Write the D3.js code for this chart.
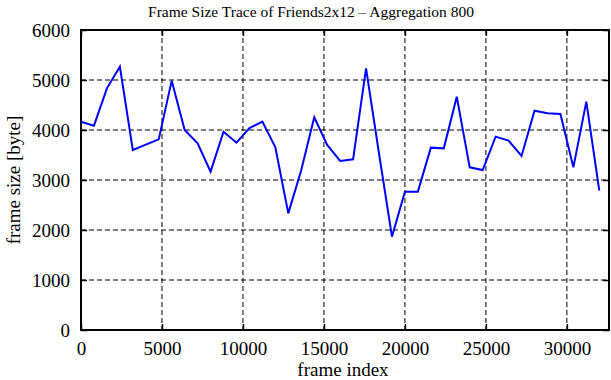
<!doctype html>
<html>
<head>
<meta charset="utf-8"/>
<title>Frame Size Trace of Friends2x12</title>
<script src="https://d3js.org/d3.v7.min.js"></script>
<style>
 body { margin: 0; background: #fff; }
 text { font-family: "Liberation Serif", "DejaVu Serif", serif; fill: #000; }
</style>
</head>
<body>
<script>
// frame index of each aggregated point (step 800)
var frameIndex = [0, 800, 1600, 2400, 3200, 4000, 4800, 5600, 6400, 7200,
  8000, 8800, 9600, 10400, 11200, 12000, 12800, 13600, 14400, 15200,
  16000, 16800, 17600, 18400, 19200, 20000, 20800, 21600, 22400, 23200,
  24000, 24800, 25600, 26400, 27200, 28000, 28800, 29600, 30400, 31200, 32000];
// frame size [byte]
var frameSize = [4166, 4087, 4833, 5267, 3600, 3707, 3813, 4987, 4000, 3733,
  3167, 3967, 3747, 4040, 4167, 3653, 2333, 3200, 4253, 3700,
  3380, 3413, 5233, 3530, 1867, 2767, 2767, 3647, 3633, 4667,
  3253, 3200, 3867, 3787, 3480, 4387, 4333, 4320, 3253, 4567, 2787];
var xTicks = [0, 5000, 10000, 15000, 20000, 25000, 30000];
var yTicks = [0, 1000, 2000, 3000, 4000, 5000, 6000];
var titleText = "Frame Size Trace of Friends2x12 \u2013 Aggregation 800";

var W = 611, H = 380;
var mLeft = 81, mRight = 609, mTop = 30, mBottom = 330;

var svg = d3.select("body").append("svg")
  .attr("width", W).attr("height", H);

var x = d3.scaleLinear().domain([0, 32600]).range([mLeft, mRight]);
var y = d3.scaleLinear().domain([0, 6000]).range([mBottom, mTop]);

// grid
svg.append("g").selectAll("line").data(yTicks.slice(1, -1)).enter()
  .append("line")
  .attr("x1", mLeft).attr("x2", mRight)
  .attr("y1", function(d){ return y(d); }).attr("y2", function(d){ return y(d); })
  .attr("stroke", "#000").attr("stroke-width", 1).attr("stroke-dasharray", "5,3");
svg.append("g").selectAll("line").data(xTicks.slice(1)).enter()
  .append("line")
  .attr("y1", mTop).attr("y2", mBottom)
  .attr("x1", function(d){ return x(d); }).attr("x2", function(d){ return x(d); })
  .attr("stroke", "#000").attr("stroke-width", 1).attr("stroke-dasharray", "5,3");

// axes with inward ticks
var tickStyle = function(g) {
  g.select(".domain").remove();
  g.selectAll(".tick line").attr("stroke", "#000").attr("stroke-width", 1.5);
  g.selectAll("text").style("font-family", "Liberation Serif").style("font-size", "19px");
};
svg.append("g").attr("transform", "translate(0," + mBottom + ")")
  .call(d3.axisBottom(x).tickValues(xTicks).tickFormat(d3.format("d")).tickSizeInner(-6).tickPadding(12))
  .call(tickStyle);
svg.append("g").attr("transform", "translate(0," + mTop + ")")
  .call(d3.axisTop(x).tickValues(xTicks).tickFormat("").tickSizeInner(-6))
  .call(tickStyle);
svg.append("g").attr("transform", "translate(" + mLeft + ",0)")
  .call(d3.axisLeft(y).tickValues(yTicks).tickFormat(d3.format("d")).tickSizeInner(-6).tickPadding(11))
  .call(tickStyle);
svg.append("g").attr("transform", "translate(" + mRight + ",0)")
  .call(d3.axisRight(y).tickValues(yTicks).tickFormat("").tickSizeInner(-6))
  .call(tickStyle);

// frame
svg.append("rect")
  .attr("x", mLeft).attr("y", mTop)
  .attr("width", mRight - mLeft).attr("height", mBottom - mTop)
  .attr("fill", "none").attr("stroke", "#000").attr("stroke-width", 2);

// data line
var pts = frameIndex.map(function(d, i){ return [d, frameSize[i]]; });
svg.append("path")
  .datum(pts)
  .attr("fill", "none")
  .attr("stroke", "#0000ff")
  .attr("stroke-width", 2)
  .attr("stroke-linejoin", "miter")
  .attr("d", d3.line().x(function(d){ return x(d[0]); }).y(function(d){ return y(d[1]); }));

// labels
svg.append("text")
  .attr("x", 311).attr("y", 17)
  .attr("text-anchor", "middle").style("font-size", "15.5px")
  .text(titleText);
svg.append("text")
  .attr("x", (mLeft + mRight) / 2 - 2).attr("y", 376)
  .attr("text-anchor", "middle").style("font-size", "19px")
  .text("frame index");
svg.append("text")
  .attr("transform", "translate(20," + ((mTop + mBottom) / 2) + ") rotate(-90)")
  .attr("text-anchor", "middle").style("font-size", "19px")
  .text("frame size [byte]");
</script>
</body>
</html>
